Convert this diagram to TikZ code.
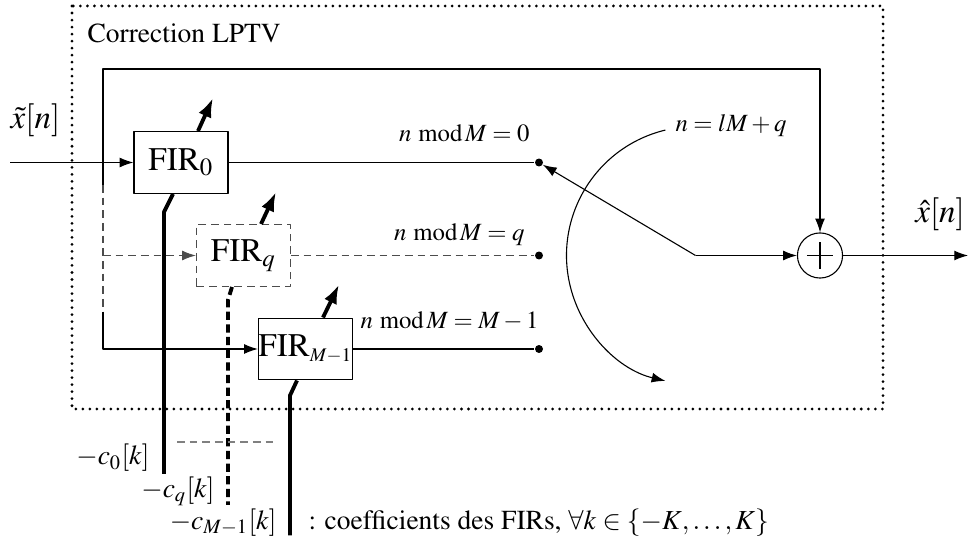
\documentclass[tikz,border=0pt]{standalone}
\usepackage[T1]{fontenc}
\usepackage{mathptmx}
\usetikzlibrary{arrows.meta,calc}

\begin{document}
\begin{tikzpicture}[x=0.3636pt, y=-0.3636pt, line join=round,
    >={Latex[length=5pt,width=3.6pt]},
    firbox/.style={draw, minimum width=34.2pt, minimum height=22.5pt, inner sep=0pt, font=\large},
    tap/.style={circle, fill, minimum size=2.9pt, inner sep=0pt},
    adapt/.style={line width=1.4pt, solid, black, -{Latex[length=7pt,width=5pt]}},
    coef/.style={line width=1.4pt},
    branch/.style={dash pattern=on 2.8pt off 1.8pt, black!70},
    lbl/.style={font=\small, inner sep=0pt}]
  \useasboundingbox (0,0) rectangle (969,541);

  % The LPTV correction block: a dotted frame and its title.
  \draw[line width=1.1pt, dash pattern=on 0pt off 2.55pt, line cap=round] (72,6) rectangle (883,409);
  \node[anchor=base west, inner sep=0pt] (title) at (87,43) {Correction LPTV};

  % The bank of filters, the dashed one standing for all those in between.
  \node[firbox] (fir0) at (181,162.5) {$\mathrm{FIR}_0$};
  \node[firbox, branch, text=black] (firq) at (243.5,255.5) {$\mathrm{FIR}_q$};
  \node[firbox] (firm) at (305.5,349) {$\mathrm{FIR}_{\scriptscriptstyle M-1}$};

  % Taps picked in turn by the commutator, and the adder.
  \node[tap] (tap0) at (539,162.5) {};
  \node[tap] (tapq) at (539,255.5) {};
  \node[tap] (tapm) at (539,349) {};
  \node[circle, draw, minimum size=16.4pt, inner sep=0pt,
        path picture={\draw (path picture bounding box.center) +(-4.8pt,0) -- +(4.8pt,0)
                            (path picture bounding box.center) +(0,-4.8pt) -- +(0,4.8pt);}] (sum) at (820,255.5) {};
  \coordinate (pivot) at (695.5,255.5);
  \coordinate (in) at (10,162.5);
  \coordinate (out) at (968,255.5);

  % Input, fed to every filter and straight to the adder.
  \node[anchor=base, inner sep=0pt, font=\large] (xin) at (35.5,129) {$\tilde{x}[n]$};
  \draw[->] (in) -- (fir0);
  \draw[->] (103,185) -- (103,69) -| (sum.north);
  \draw[branch] (103,185) -- (103,312);
  \draw[branch, ->] (103,255.5) -- (firq.west);
  \draw[->] (103,312) |- (firm.west);

  % Filter outputs up to the taps.
  \draw (fir0) -- (tap0);
  \draw[branch] (firq) -- (tapq);
  \draw (firm) -- (tapm);
  \node[lbl, anchor=base east] (lab0) at (530,142) {$n\mskip5mu\mathrm{mod}\mskip2mu M = 0$};
  \node[lbl, anchor=base east] (labq) at (525,240.5) {$n\mskip5mu\mathrm{mod}\mskip2mu M = q$};
  \node[lbl, anchor=base east] (labm) at (539,329) {$n\mskip5mu\mathrm{mod}\mskip2mu M = M-1$};

  % Commutator: the arm, its sweep and the rule it follows.
  \draw[->] (pivot) -- (tap0);
  \draw[->] (pivot) -- (sum);
  \draw[->] ($(pivot)+(-103.5:129)$) arc[start angle=-103.5, end angle=-256.5, radius=129];
  \node[lbl, anchor=base west] (rule) at (675,132) {$n = lM + q$};

  % Output.
  \draw[->] (sum) -- (out);
  \node[anchor=base, inner sep=0pt, font=\large] (xout) at (940,223) {$\hat{x}[n]$};

  % Adaptation arrows through the filters.
  \draw[adapt] ($(fir0.north)+(17,0)$) -- +(15,-33);
  \draw[adapt] ($(firq.north)+(17.5,0)$) -- +(15,-32);
  \draw[adapt] ($(firm.north)+(17.5,0)$) -- +(16,-33);

  % Coefficient inputs, led out below the frame.
  \draw[coef] ($(fir0.south)+(-8,0)$) -- ++(-9,18) -- ++(0,262);
  \draw[coef, dash pattern=on 3pt off 1.6pt] ($(firq.south)+(-11.5,0)$) -- ++(-4,13) -- ++(0,205);
  \draw[coef] ($(firm.south)+(-8.5,0)$) -- ++(-7,15) -- ++(0,140);
  \draw[branch, black!50] (177,442) -- (278,442);
  \node[anchor=base east, inner sep=0pt] (c0) at (150,465) {$-c_0[k]$};
  \node[anchor=base east, inner sep=0pt] (cq) at (215,497) {$-c_q[k]$};
  \node[anchor=base east, inner sep=0pt] (cm) at (277,529) {$-c_{M-1}[k]$};
  \node[anchor=base west, inner sep=0pt] (legend) at (308,529) {: coefficients des FIRs, $\forall k \in \{-K,\dots,K\}$};
\end{tikzpicture}
\end{document}
